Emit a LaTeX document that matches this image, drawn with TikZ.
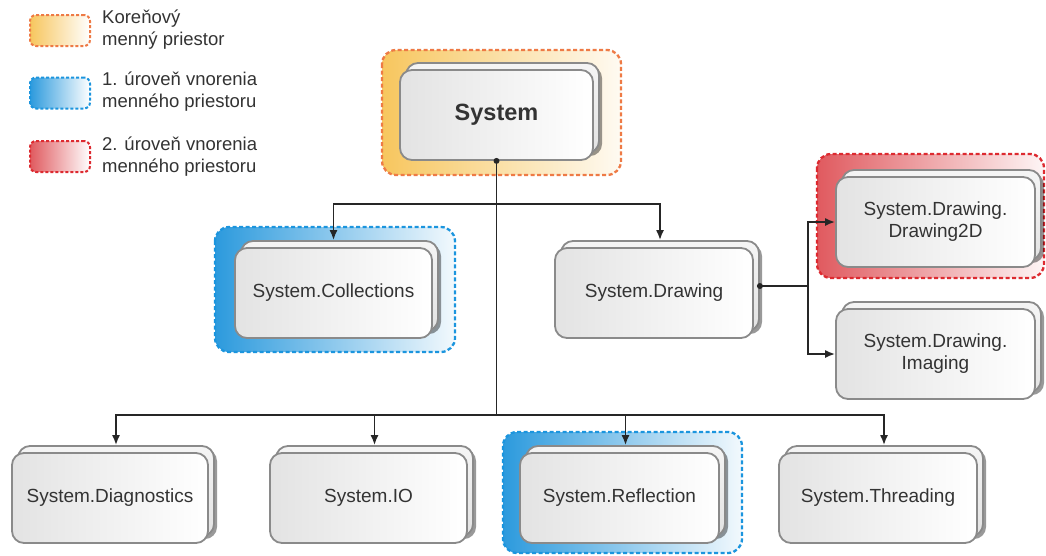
\documentclass[tikz,border=0pt]{standalone}
\usepackage{fontspec}
\setmainfont{Liberation Sans}
\usetikzlibrary{arrows.meta,shadows,calc}
\definecolor{txt}{HTML}{333333}
\definecolor{cardborder}{HTML}{8A8A8A}
\definecolor{orfr}{HTML}{EE7A45}
\definecolor{orfill}{HTML}{F7C65E}
\definecolor{blfr}{HTML}{1B95DE}
\definecolor{blfill}{HTML}{2C9ADD}
\definecolor{rdfr}{HTML}{DD2A30}
\definecolor{rdfill}{HTML}{E05A5F}
\definecolor{linec}{HTML}{262626}
\tikzset{
  frontcard/.style={draw=cardborder, line width=1.8pt, rounded corners=12pt,
    minimum width=197pt, minimum height=90pt, inner sep=2pt,
    left color=gray!22, right color=white, align=center, text=txt,
    font=\fontsize{19}{22}\selectfont},
  backcard/.style={draw=cardborder, line width=1.8pt, rounded corners=12pt,
    minimum width=197pt, minimum height=90pt, inner sep=0pt,
    top color=gray!8, bottom color=gray!22,
    drop shadow={shadow xshift=3pt, shadow yshift=-3pt, opacity=.4, fill=black}},
  frame/.style={line width=2.3pt, dash pattern=on 4pt off 2.5pt, rounded corners=14pt},
  orframe/.style={frame, draw=orfr, left color=orfill, right color=orfill!8},
  blframe/.style={frame, draw=blfr, left color=blfill, right color=blfill!6},
  rdframe/.style={frame, draw=rdfr, left color=rdfill, right color=rdfill!6},
  legbox/.style={line width=2pt, dash pattern=on 3pt off 2pt, rounded corners=6pt,
    minimum width=60pt, minimum height=31pt, inner sep=0pt},
  legtext/.style={anchor=west, align=left, text=txt, inner sep=0pt,
    font=\fontsize{18.5}{22}\selectfont},
  conn/.style={draw=linec, line width=1.7pt},
  arr/.style={conn, -{Latex[length=10pt,width=8pt]}},
  dot/.style={fill=linec}
}
\newcommand\mycard[5]{%
  \node[backcard, minimum width=#5] (#1b) at (#2+6,#3-7) {};
  \node[frontcard, minimum width=#5] (#1) at (#2,#3) {#4};
}
\begin{document}
\begin{tikzpicture}[x=1pt,y=-1pt]
\useasboundingbox (0,0) rectangle (1046,555);
\fill[white] (0,0) rectangle (1046,555);

% legend
\node[legbox, draw=orfr, left color=orfill, right color=white] (lg1) at (60,30.5) {};
\node[legtext] (lt1) at (102,30) {Koreňový\\menný priestor};
\node[legbox, draw=blfr, left color=blfill, right color=white] (lg2) at (60,93) {};
\node[legtext] (lt2) at (102,92) {1. úroveň vnorenia\\menného priestoru};
\node[legbox, draw=rdfr, left color=rdfill, right color=white] (lg3) at (60,156.5) {};
\node[legtext] (lt3) at (102,156.5) {2. úroveň vnorenia\\menného priestoru};

% frames
\path[orframe] (382,50) rectangle (621,175);
\path[blframe] (215,227) rectangle (455,352);
\path[rdframe] (817,154) rectangle (1044,278);
\path[blframe] (503,432) rectangle (742,553);

% cards
\mycard{sys}{496.5}{115}{\fontsize{23.5}{26}\selectfont\bfseries System}{193pt}
\mycard{coll}{333.5}{293}{System.Collections}{197pt}
\mycard{drw}{654}{293}{System.Drawing}{198pt}
\mycard{dtd}{935.5}{222}{System.Drawing.\\Drawing2D}{199pt}
\mycard{img}{935.5}{354}{System.Drawing.\\Imaging}{199pt}
\mycard{diag}{110}{498}{System.Diagnostics}{196pt}
\mycard{io}{368.5}{498}{System.IO}{197pt}
\mycard{refl}{619.5}{498}{System.Reflection}{199pt}
\mycard{thr}{878}{498}{System.Threading}{198pt}

% connectors
\coordinate (j1) at (496.5,204);
\coordinate (j2) at (496.5,415);
\coordinate (j3) at (808,286);
\draw[conn] (sys.south) -- (j2);
\fill[dot] (sys.south) circle (3pt);
\draw[arr] (j1) -| (coll.north |- collb.north);
\draw[arr] (j1) -| (drwb.north);
\draw[arr] (j2) -| (diagb.north);
\draw[arr] (j2) -| (iob.north);
\draw[arr] (j2) -| (reflb.north);
\draw[arr] (j2) -| (thrb.north);
\draw[conn] (drwb.east) -- (j3);
\fill[dot] (drwb.east) circle (3pt);
\draw[arr] (j3) |- (dtd.west);
\draw[arr] (j3) |- (img.west);
\end{tikzpicture}
\end{document}
